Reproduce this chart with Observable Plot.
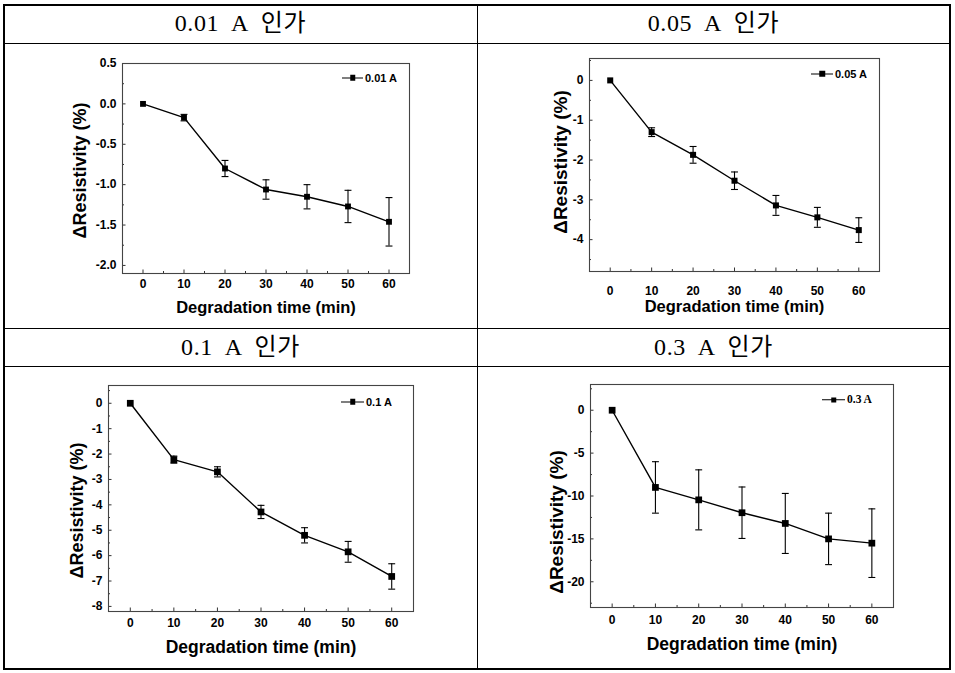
<!DOCTYPE html>
<html><head><meta charset="utf-8">
<script src="https://cdn.jsdelivr.net/npm/d3@7"></script>
<script src="https://cdn.jsdelivr.net/npm/@observablehq/plot@0.6"></script>
<style>
body{margin:0;background:#fff;}
#page{position:relative;width:955px;height:673px;background:#fff;overflow:hidden;}
.bl{position:absolute;background:#000;}
.hdr{position:absolute;font-family:"Liberation Serif","Noto Sans CJK KR",serif;font-size:24px;letter-spacing:0.6px;white-space:pre;line-height:1;transform:translate(-50%,-50%);color:#000;}
.panel{position:absolute;}
.panel svg{overflow:visible;display:block;}
.leg{position:absolute;display:flex;align-items:center;font-family:"Liberation Sans",Arial,sans-serif;font-weight:bold;font-size:11px;white-space:nowrap;transform:translateY(-50%);line-height:1;}
.leg .ln{position:relative;height:1.4px;background:#000;}
.leg .sq{position:absolute;left:50%;top:50%;width:5.5px;height:5.5px;background:#000;transform:translate(-50%,-50%);}
.leg .tx{margin-left:2px;}
</style></head>
<body><div id="page"></div>
<script>
// ---- data ----
const times = [0, 10, 20, 30, 40, 50, 60];
const res001 = [0, -0.17, -0.80, -1.06, -1.15, -1.27, -1.46];
const err001 = [0, 0.04, 0.10, 0.12, 0.15, 0.20, 0.30];
const res005 = [0, -1.30, -1.87, -2.52, -3.14, -3.44, -3.76];
const err005 = [0, 0.11, 0.21, 0.22, 0.25, 0.25, 0.31];
const res01 = [0, -2.22, -2.70, -4.28, -5.20, -5.85, -6.82];
const err01 = [0, 0.14, 0.20, 0.26, 0.30, 0.41, 0.50];
const res03 = [0, -9.0, -10.45, -11.95, -13.2, -15.0, -15.5];
const err03 = [0, 3.0, 3.5, 3.0, 3.5, 3.0, 4.0];
const headers = ["0.01  A  인가", "0.05  A  인가", "0.1  A  인가", "0.3  A  인가"];
const legendLabels = ["0.01 A", "0.05 A", "0.1 A", "0.3 A"];
const xTicks = [0, 10, 20, 30, 40, 50, 60];
const yTicks001 = [0.5, 0, -0.5, -1, -1.5, -2];
const yTicks005 = [0, -1, -2, -3, -4];
const yTicks01 = [0, -1, -2, -3, -4, -5, -6, -7, -8];
const yTicks03 = [0, -5, -10, -15, -20];
const xLabel = "Degradation time (min)";
const yLabel = "ΔResistivity (%)";

// ---- layout ----
const page = document.getElementById("page");
function line(x, y, w, h) {
  const d = document.createElement("div");
  d.className = "bl";
  Object.assign(d.style, {left: x + "px", top: y + "px", width: w + "px", height: h + "px"});
  page.appendChild(d);
}
line(3, 4, 948, 2);    // top
line(3, 668, 948, 2);  // bottom
line(3, 4, 2, 666);    // left
line(949, 4, 2, 666);  // right
line(3, 43, 948, 1);
line(3, 328, 948, 1);
line(3, 366, 948, 1);
line(477, 4, 1, 666);

const hdrPos = [[240.5, 23], [713.5, 23], [240.5, 347], [713.5, 347]];
headers.forEach((h, i) => {
  const d = document.createElement("div");
  d.className = "hdr";
  d.textContent = h;
  d.style.left = hdrPos[i][0] + "px";
  d.style.top = hdrPos[i][1] + "px";
  page.appendChild(d);
});

const fmt1 = d => d.toFixed(1);
const fmt0 = d => String(d);

const panels = [
  {res: res001, err: err001, yTicks: yTicks001, minorStep: 0.25, yDomain: [-2.1, 0.5], fmt: fmt1,
   L: 122, T: 63, R: 409, B: 273, ylab: {dx: -42, dy: 2, size: 18}, xlab: {dy: 34, size: 16.5}, xPad: 9, sq: 3.3,
   leg: {x1: 342, x2: 363, y: 78, font: null}},
  {res: res005, err: err005, yTicks: yTicks005, minorStep: 0.5, yDomain: [-4.8, 0.55], fmt: fmt0,
   L: 589, T: 58, R: 879, B: 271, ylab: {dx: -29, dy: -3, size: 19}, xlab: {dy: 35, size: 16.5}, xPad: 18, sq: 3.4,
   leg: {x1: 811, x2: 833, y: 74, font: null}},
  {res: res01, err: err01, yTicks: yTicks01, minorStep: 0.5, yDomain: [-8.2, 0.7], fmt: fmt0,
   L: 108, T: 385, R: 413, B: 611, ylab: {dx: -31, dy: 12, size: 18}, xlab: {dy: 36, size: 17.5}, xPad: 10.5, sq: 3.8,
   leg: {x1: 341, x2: 364, y: 402, font: null}},
  {res: res03, err: err03, yTicks: yTicks03, minorStep: 2.5, yDomain: [-23, 3], fmt: fmt0,
   L: 590, T: 384, R: 893, B: 607, ylab: {dx: -34, dy: 26, size: 19}, xlab: {dy: 37, size: 17.5}, xPad: 11, sq: 3.8,
   leg: {x1: 822, x2: 845, y: 400, font: "Liberation Serif"}}
];

const cap = {draw(ctx, size) { const w = Math.sqrt(size) / 2; ctx.moveTo(-w, 0); ctx.lineTo(w, 0); }};
const mL = 70, mR = 20, mT = 20, mB = 60;

panels.forEach((p, i) => {
  const data = times.map((t, j) => ({t, r: p.res[j], e: p.err[j]}));
  const errData = data.filter(d => d.e > 0);
  const [y0, y1] = p.yDomain;
  const yMinor = d3.range(Math.ceil(y0 / p.minorStep) * p.minorStep, y1 + 1e-9, p.minorStep)
    .filter(v => !p.yTicks.some(t => Math.abs(t - v) < 1e-9));
  const xMinor = d3.range(5, 60, 10);
  const chart = Plot.plot({
    width: p.R - p.L + mL + mR,
    height: p.B - p.T + mT + mB,
    marginLeft: mL, marginRight: mR, marginTop: mT, marginBottom: mB,
    style: {background: "transparent", fontFamily: "'Liberation Sans', Arial, sans-serif", fontWeight: "bold", fontSize: "12px", color: "#000", overflow: "visible"},
    x: {domain: [-5, 65]},
    y: {domain: p.yDomain},
    marks: [
      Plot.axisY(p.yTicks, {tickSize: -3.5, tickPadding: 9.5, tickFormat: p.fmt, label: null, stroke: "#333", fontSize: 12}),
      Plot.axisY(yMinor, {tickSize: -2, tickFormat: () => "", label: null, stroke: "#333"}),
      Plot.axisX(xTicks, {tickSize: -3.5, tickPadding: p.xPad, tickFormat: fmt0, label: null, stroke: "#333", fontSize: 12}),
      Plot.axisX(xMinor, {tickSize: -2, tickFormat: () => "", label: null, stroke: "#333"}),
      Plot.frame({stroke: "#444", strokeWidth: 1.1}),
      Plot.ruleX(errData, {x: "t", y1: d => d.r - d.e, y2: d => d.r + d.e, stroke: "#000", strokeWidth: 1.1}),
      Plot.dot(errData, {x: "t", y: d => d.r + d.e, symbol: cap, r: 3.9, fill: "none", stroke: "#000", strokeWidth: 1.1}),
      Plot.dot(errData, {x: "t", y: d => d.r - d.e, symbol: cap, r: 3.9, fill: "none", stroke: "#000", strokeWidth: 1.1}),
      Plot.line(data, {x: "t", y: "r", stroke: "#000", strokeWidth: 1.4}),
      Plot.dot(data, {x: "t", y: "r", symbol: "square", r: p.sq, fill: "#000", stroke: null}),
      Plot.text([xLabel], {frameAnchor: "bottom", text: d => d, dy: p.xlab.dy, fontSize: p.xlab.size, fontWeight: "bold", lineAnchor: "middle", textAnchor: "middle"}),
      Plot.text([yLabel], {frameAnchor: "left", text: d => d, rotate: -90, dx: p.ylab.dx, dy: p.ylab.dy, fontSize: p.ylab.size, fontWeight: "bold", lineAnchor: "middle", textAnchor: "middle"})
    ]
  });
  const wrap = document.createElement("div");
  wrap.className = "panel";
  Object.assign(wrap.style, {left: (p.L - mL) + "px", top: (p.T - mT) + "px", width: (p.R - p.L + mL + mR) + "px"});
  wrap.appendChild(chart);
  page.appendChild(wrap);

  // legend
  const lg = document.createElement("div");
  lg.className = "leg";
  lg.style.left = p.leg.x1 + "px";
  lg.style.top = p.leg.y + "px";
  if (p.leg.font) { lg.style.fontFamily = p.leg.font; lg.style.fontSize = "11.5px"; }
  const ln = document.createElement("div");
  ln.className = "ln";
  ln.style.width = (p.leg.x2 - p.leg.x1) + "px";
  const sq = document.createElement("div");
  sq.className = "sq";
  ln.appendChild(sq);
  const tx = document.createElement("span");
  tx.className = "tx";
  tx.textContent = legendLabels[i];
  lg.appendChild(ln);
  lg.appendChild(tx);
  page.appendChild(lg);
});
</script>
</body></html>
